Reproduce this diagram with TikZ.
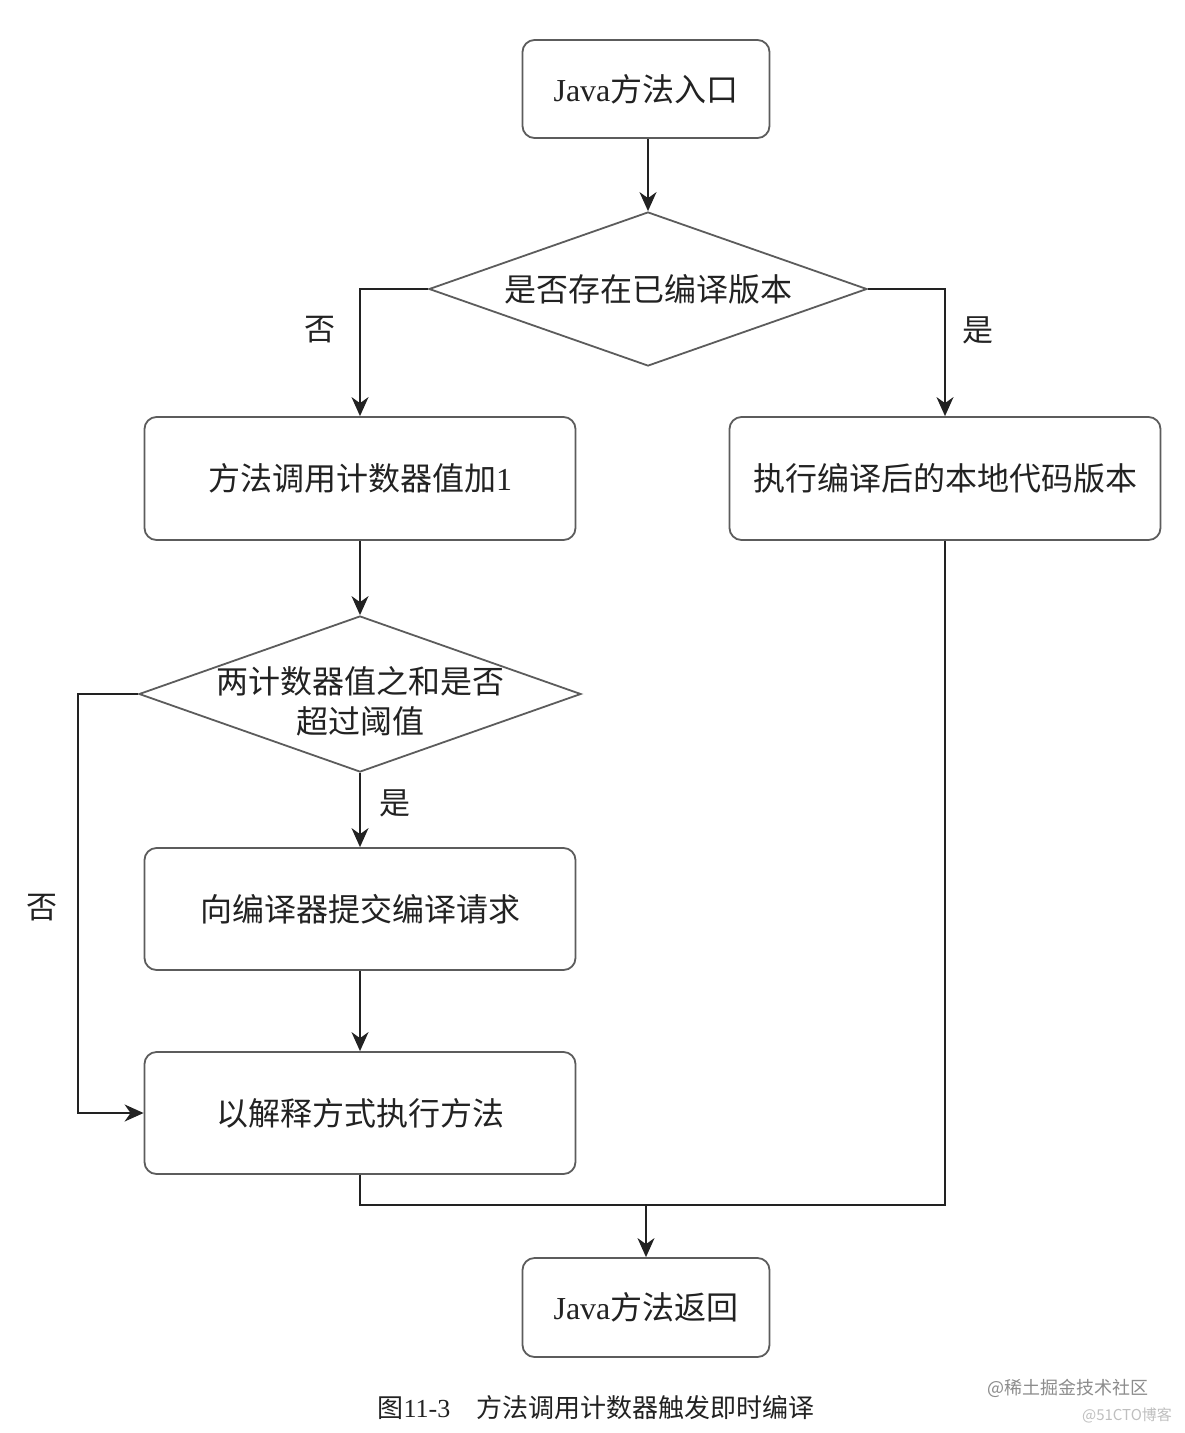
\documentclass[tikz,border=0pt]{standalone}
\usepackage{fontspec}
\setmainfont{Liberation Serif}
\newfontfamily\cjk{Noto Sans CJK SC}
\usetikzlibrary{shapes.geometric,arrows.meta}
\definecolor{boxline}{HTML}{5C5C5C}
\definecolor{ink}{HTML}{222222}
\begin{document}
\begin{tikzpicture}[x=1pt,y=-1pt,
  every node/.style={text=ink, font=\fontsize{32}{38}\selectfont},
  procbox/.style={draw=boxline, line width=1.8pt, rounded corners=12pt, minimum width=431pt, minimum height=123pt, inner sep=0pt},
  termbox/.style={draw=boxline, line width=1.8pt, rounded corners=12pt, minimum width=247pt, minimum height=98pt, inner sep=0pt},
  decbox/.style={draw=boxline, line width=1.8pt, shape=diamond, inner sep=0pt},
  conn/.style={draw=ink, line width=1.6pt},
  arr/.style={conn, -{Stealth[length=19pt,width=17pt,inset=6pt]}},
  lbl/.style={font=\fontsize{31}{38}\selectfont\cjk}
]
\useasboundingbox (0,0) rectangle (1184,1433);
\fill[white] (0,0) rectangle (1184,1433);

\node[termbox] (start) at (646,89) {Java{\cjk 方法入口}};
\node[decbox, minimum width=438pt, minimum height=154pt] (d1) at (648,289) {};
\node[lbl, font=\fontsize{32}{38}\selectfont\cjk] (t1) at (d1.center) {是否存在已编译版本};
\node[procbox] (b1) at (360,478.5) {{\cjk 方法调用计数器值加}1};
\node[procbox] (b2) at (945,478.5) {\cjk 执行编译后的本地代码版本};
\node[decbox, minimum width=442pt, minimum height=156pt] (d2) at (360,694) {};
\node[lbl, font=\fontsize{32}{38}\selectfont\cjk, align=center, yshift=-7pt] (t2) at (d2.center) {两计数器值之和是否\\[2pt]超过阈值};
\node[procbox, minimum height=122pt] (b3) at (360,909) {\cjk 向编译器提交编译请求};
\node[procbox, minimum height=122pt] (b4) at (360,1113) {\cjk 以解释方式执行方法};
\node[termbox, minimum height=99pt] (end) at (646,1307.5) {Java{\cjk 方法返回}};

\coordinate (m) at (646,1205);
\coordinate (lp) at (78,694);

\draw[arr] (start.south -| d1.north) -- (d1.north);
\draw[arr] (d1.west) -| (b1.north);
\draw[arr] (d1.east) -| (b2.north);
\draw[arr] (b1.south) -- (d2.north);
\draw[arr] (d2.south) -- (b3.north);
\draw[arr] (b3.south) -- (b4.north);
\draw[arr] (d2.west) -- (lp) |- (b4.west);
\draw[conn] (b4.south) |- (m);
\draw[conn] (b2.south) |- (m);
\draw[arr] (m) -- (m |- end.north);

\node[lbl] (l1) at (320,330) {否};
\node[lbl] (l2) at (978,330) {是};
\node[lbl] (l3) at (395,803) {是};
\node[lbl] (l4) at (42,908) {否};

\node[font=\fontsize{26}{30}\selectfont] (cap) at (596,1408) {{\cjk 图}11-3\hspace{26pt}{\cjk 方法调用计数器触发即时编译}};
\node[text=black!45, font=\fontsize{18}{20}\selectfont\cjk] (wm1) at (1068,1388) {@稀土掘金技术社区};
\node[text=black!25, font=\fontsize{15}{18}\selectfont\cjk] (wm2) at (1127,1415) {@51CTO博客};
\end{tikzpicture}
\end{document}
